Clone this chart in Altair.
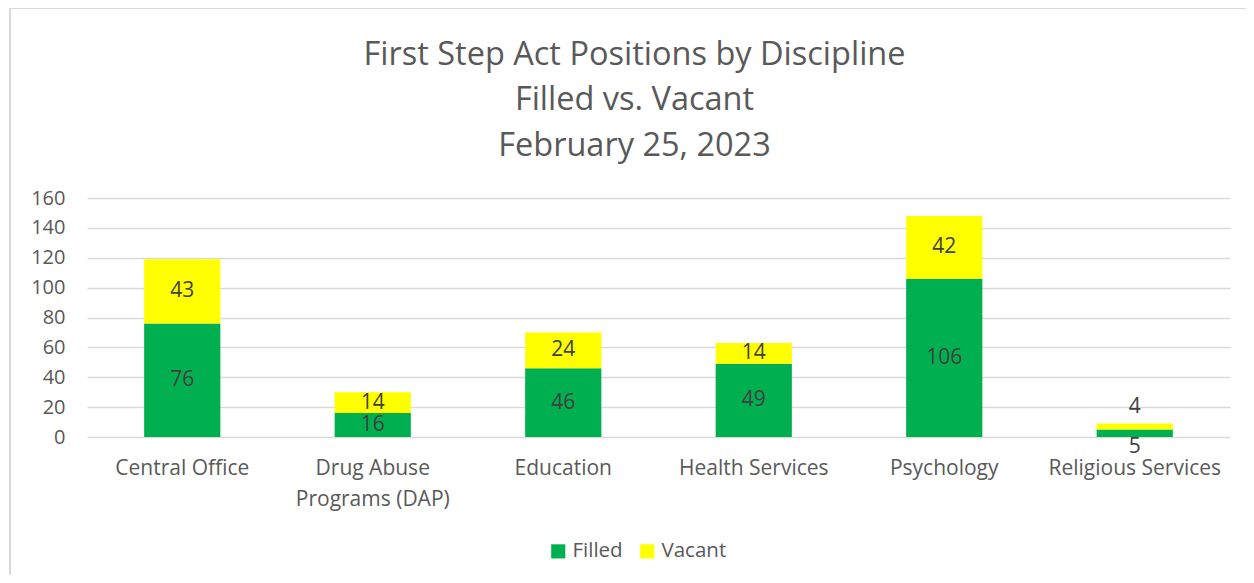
import altair as alt
import pandas as pd

categories = ["Central Office", "Drug Abuse Programs (DAP)", "Education",
              "Health Services", "Psychology", "Religious Services"]
filled = [76, 16, 46, 49, 106, 5]
vacant = [43, 14, 24, 14, 42, 4]
statuses = ["Filled", "Vacant"]
colors = ["#00B050", "#FFFF00"]

rows = []
for c, f, v in zip(categories, filled, vacant):
    rows.append({"category": c, "status": "Filled", "value": f, "ord": 0})
    rows.append({"category": c, "status": "Vacant", "value": v, "ord": 1})
df = pd.DataFrame(rows)

FONT = "Open Sans"
GREY = "#595959"

base = alt.Chart(df).transform_stack(
    stack="value", groupby=["category"], as_=["y0", "y1"],
    sort=[alt.SortField("ord", order="ascending")]
).transform_calculate(mid="(datum.y0 + datum.y1) / 2")

yscale = alt.Scale(domain=[0, 160])
xscale = alt.Scale(paddingInner=0.6, paddingOuter=0.3)
xaxis = alt.Axis(labelAngle=0, labelFontSize=21, labelColor=GREY,
                 labelFont=FONT, ticks=False, domain=False,
                 labelPadding=20, labelLineHeight=31,
                 labelExpr="datum.label == 'Drug Abuse Programs (DAP)' ? ['Drug Abuse', 'Programs (DAP)'] : datum.label")
yaxis = alt.Axis(values=list(range(0, 161, 20)), labelFontSize=20,
                 labelColor=GREY, labelFont=FONT, ticks=False,
                 domain=False, labelPadding=22, gridColor="#d9d9d9",
                 gridWidth=1.5, labelOverlap=False)


def xenc():
    return alt.X("category:N", sort=categories, title=None, scale=xscale, axis=xaxis)


def yenc(field):
    return alt.Y(field, title=None, scale=yscale, axis=yaxis)


bars = base.mark_bar().encode(
    x=xenc(),
    y=yenc("y0:Q"),
    y2="y1:Q",
    color=alt.Color("status:N", scale=alt.Scale(domain=statuses, range=colors),
                    legend=alt.Legend(title=None, orient="none", direction="horizontal",
                                      legendX=461, legendY=343, symbolType="square",
                                      symbolSize=200, symbolStrokeWidth=0,
                                      labelFontSize=20.5, labelColor=GREY,
                                      labelFont=FONT, columnPadding=14,
                                      labelOffset=4)),
)

big_labels = base.transform_filter("datum.value >= 8").mark_text(
    fontSize=21, color="#404040", font=FONT, baseline="middle"
).encode(x=xenc(), y=yenc("mid:Q"), text="value:Q")

small_filled = base.transform_filter("datum.value < 8 && datum.status == 'Filled'").mark_text(
    fontSize=21, color="#404040", font=FONT, baseline="top", dy=-1
).encode(x=xenc(), y=yenc("y0:Q"), text="value:Q")

small_vacant = base.transform_filter("datum.value < 8 && datum.status == 'Vacant'").mark_text(
    fontSize=21, color="#404040", font=FONT, baseline="bottom", dy=-7
).encode(x=xenc(), y=yenc("y1:Q"), text="value:Q")

border_left = alt.Chart(df).mark_rule(color="#d9d9d9", strokeWidth=1.5).encode(
    x=alt.value(-77), y=alt.value(-190), y2=alt.value(380))
border_top = alt.Chart(df).mark_rule(color="#d9d9d9", strokeWidth=1.5).encode(
    x=alt.value(-77), x2=alt.value(1170), y=alt.value(-190))

chart = alt.layer(bars, big_labels, small_filled, small_vacant, border_left, border_top).properties(
    width=1143, height=239,
    title=alt.TitleParams(
        ["First Step Act Positions by Discipline", "Filled vs. Vacant", "February 25, 2023"],
        fontSize=32.5, font=FONT, color=GREY, fontWeight="normal",
        anchor="middle", frame="group", dx=-24, lineHeight=45.5, offset=-155),
    autosize=alt.AutoSizeParams(type="none"),
    padding={"left": 79, "top": 190, "right": 16, "bottom": 138},
    background="white",
).configure_view(strokeOpacity=0, strokeWidth=0)

chart.save("out.html", embed_options={"renderer": "svg", "actions": False})
